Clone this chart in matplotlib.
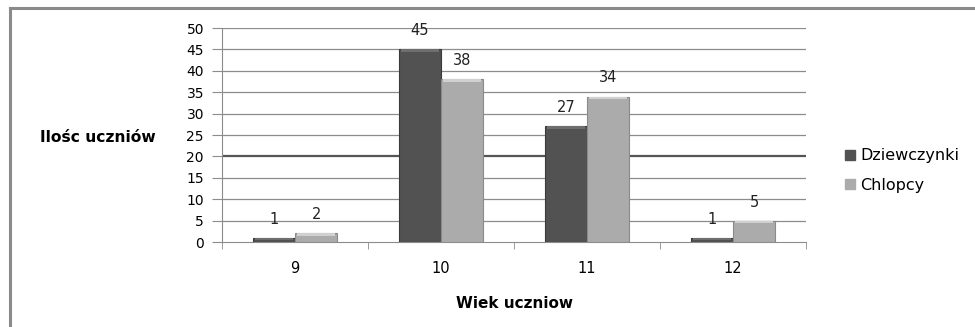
import matplotlib.pyplot as plt
from matplotlib.lines import Line2D
import numpy as np

plt.rcParams['font.family'] = ['DejaVu Sans']

ages = ['9', '10', '11', '12']
girls = [1, 45, 27, 1]
boys = [2, 38, 34, 5]
series_names = ['Dziewczynki', 'Chlopcy']
yticks = [0, 5, 10, 15, 20, 25, 30, 35, 40, 45, 50]

girl_color = '#525252'
boy_color = '#ababab'

fig = plt.figure(figsize=(9.75, 3.27), dpi=100)
ax = fig.add_axes([0.2277, 0.2599, 0.599, 0.6544])

x = np.arange(len(ages))
w = 0.29
b1 = ax.bar(x - w / 2, girls, w, color=girl_color, edgecolor='#3a3a3a', linewidth=0.8, zorder=3)
b2 = ax.bar(x + w / 2, boys, w, color=boy_color, edgecolor='#8a8a8a', linewidth=0.8, zorder=3)

# light bevel strip along the top of each bar
for bars, light in ((b1, '#6e6e6e'), (b2, '#d0d0d0')):
    for r in bars:
        ax.bar(r.get_x() + r.get_width() / 2, 0.6, r.get_width() * 0.9, bottom=r.get_height() - 0.6,
               color=light, linewidth=0, zorder=4)

for bars, vals in ((b1, girls), (b2, boys)):
    for r, v in zip(bars, vals):
        ax.annotate(str(v), (r.get_x() + r.get_width() / 2, v), xytext=(0, 8),
                    textcoords='offset points', ha='center', va='bottom', fontsize=10.5, color='#222222')

ax.set_xlim(-0.5, len(ages) - 0.5)
ax.set_ylim(0, 50)
ax.set_yticks(yticks)
ax.set_yticklabels([str(t) for t in yticks], fontsize=10)
for t in yticks[1:]:
    ax.axhline(t, color='#555555' if t == 20 else '#8c8c8c', lw=1.6 if t == 20 else 0.9, zorder=1)

ax.set_xticks(x)
ax.set_xticklabels(ages, fontsize=10.5)
ax.set_xticks(np.arange(len(ages) + 1) - 0.5, minor=True)
ax.tick_params(axis='x', which='major', length=0, pad=14)
ax.tick_params(axis='x', which='minor', length=5, color='#8c8c8c', direction='out')
ax.tick_params(axis='y', length=7, color='#8c8c8c', pad=6)

for side in ('top', 'right'):
    ax.spines[side].set_visible(False)
ax.spines['left'].set_color('#8c8c8c')
ax.spines['bottom'].set_color('#8c8c8c')

ax.set_xlabel('Wiek uczniow', fontsize=11, fontweight='bold', labelpad=14)
fig.text(0.041, 0.578, 'Ilośc uczniów', fontsize=11.2, fontweight='bold', va='center', ha='left')

handles = [plt.Rectangle((0, 0), 1, 1, color=girl_color), plt.Rectangle((0, 0), 1, 1, color=boy_color)]
fig.legend(handles, series_names, loc='upper left', bbox_to_anchor=(0.852, 0.59), frameon=False,
           fontsize=11.5, handlelength=0.6, handleheight=0.6, handletextpad=0.35, labelspacing=0.9)

# outer frame
fig.add_artist(Line2D([0.0105, 0.0105], [0, 0.975], color='#8a8a8a', lw=2.2))
fig.add_artist(Line2D([0.0105, 1.0], [0.975, 0.975], color='#8a8a8a', lw=2.2))

fig.savefig('out.png', dpi=100)
